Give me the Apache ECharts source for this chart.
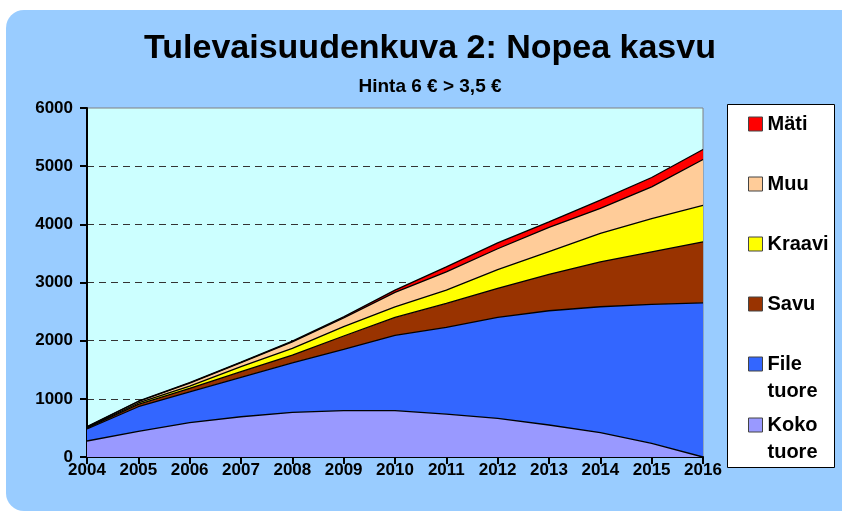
<!DOCTYPE html>
<html>
<head>
<meta charset="utf-8">
<title>Tulevaisuudenkuva 2: Nopea kasvu</title>
<script src="https://cdn.jsdelivr.net/npm/echarts@6/dist/echarts.min.js"></script>
<style>
  html, body { margin: 0; padding: 0; background: #ffffff; }
  #chart { width: 842px; height: 515px; }
</style>
</head>
<body>
<div id="chart"></div>
<script>
  // vuodet
  var years = ['2004', '2005', '2006', '2007', '2008', '2009', '2010', '2011', '2012', '2013', '2014', '2015', '2016'];
  // sarjat alhaalta ylös (pinottu)
  var kokoTuore = [275, 440, 590, 692, 767, 796, 796, 738, 664, 550, 418, 235, 0];
  var fileTuore = [206, 424, 530, 677, 853, 1054, 1294, 1490, 1736, 1964, 2165, 2388, 2651];
  var savu = [15, 40, 60, 97, 132, 230, 310, 412, 500, 626, 773, 905, 1049];
  var kraavi = [10, 25, 40, 86, 116, 160, 180, 229, 320, 390, 487, 572, 624];
  var muu = [10, 25, 50, 70, 110, 150, 250, 315, 360, 416, 430, 545, 791];
  var mati = [5, 5, 10, 10, 15, 20, 40, 86, 100, 97, 143, 160, 172];
  var yTicks = [0, 1000, 2000, 3000, 4000, 5000, 6000];

  var font = '"Liberation Sans", Arial, sans-serif';

  var seriesDefs = [
    { name: 'Koko tuore', label: 'Koko\ntuore', data: kokoTuore, color: '#9999FF' },
    { name: 'File tuore', label: 'File\ntuore', data: fileTuore, color: '#3366FF' },
    { name: 'Savu', label: 'Savu', data: savu, color: '#993300' },
    { name: 'Kraavi', label: 'Kraavi', data: kraavi, color: '#FFFF00' },
    { name: 'Muu', label: 'Muu', data: muu, color: '#FFCC99' },
    { name: 'Mäti', label: 'Mäti', data: mati, color: '#FF0000' }
  ];

  // legendan merkkien keskikohdat (px)
  var legendCenters = {
    'Mäti': 124, 'Muu': 184, 'Kraavi': 244, 'Savu': 304, 'File tuore': 364, 'Koko tuore': 425
  };
  var lh = 27;

  var legends = seriesDefs.map(function (s) {
    var twoLine = s.label.indexOf('\n') >= 0;
    // kaksirivisessä tyhjä rivi alkuun, jotta ensimmäinen rivi on merkin kohdalla
    var text = twoLine ? ' \n' + s.label : s.label;
    return {
      left: 748,
      top: legendCenters[s.name] - (twoLine ? 1.5 * lh : 0.5 * lh),
      padding: 0,
      icon: 'rect',
      itemWidth: 14,
      itemHeight: 14,
      itemGap: 6,
      selectedMode: false,
      data: [{ name: s.name, itemStyle: { color: s.color, borderColor: '#444', borderWidth: 1 } }],
      formatter: function () { return text; },
      textStyle: {
        fontFamily: font,
        fontSize: 20,
        fontWeight: 'bold',
        color: '#000',
        lineHeight: lh
      }
    };
  });

  var myChart = echarts.init(document.getElementById('chart'));
  var option = {
    animation: false,
    backgroundColor: '#ffffff',
    graphic: [
      {
        type: 'rect', z: -10, silent: true,
        shape: { x: 6, y: 10, width: 900, height: 501, r: 18 },
        style: { fill: '#99CCFF' }
      },
      {
        type: 'rect', z: -5, silent: true,
        shape: { x: 727.5, y: 104.5, width: 107, height: 363 },
        style: { fill: '#ffffff', stroke: '#000', lineWidth: 1 }
      },
      {
        type: 'text', silent: true,
        x: 430, y: 49,
        style: {
          text: 'Tulevaisuudenkuva 2: Nopea kasvu',
          font: 'bold 34px ' + font,
          fill: '#000', textAlign: 'center', textVerticalAlign: 'middle'
        }
      },
      {
        type: 'text', silent: true,
        x: 430, y: 87,
        style: {
          text: 'Hinta 6 € > 3,5 €',
          font: 'bold 19px ' + font,
          fill: '#000', textAlign: 'center', textVerticalAlign: 'middle'
        }
      },
      {
        type: 'text', silent: true,
        x: 672, y: 381,
        style: {
          text: '50 %',
          font: 'bold 17px ' + font,
          fill: '#000', textAlign: 'center', textVerticalAlign: 'middle'
        }
      }
    ],
    legend: legends,
    grid: {
      left: 87,
      right: 139,
      top: 108,
      bottom: 58,
      show: true,
      backgroundColor: '#CCFFFF',
      borderColor: '#808080',
      borderWidth: 1
    },
    xAxis: {
      type: 'category',
      boundaryGap: false,
      data: years,
      axisLine: { lineStyle: { color: '#000', width: 2 } },
      axisTick: { show: true, length: 7, lineStyle: { color: '#000', width: 2 } },
      axisLabel: { fontFamily: font, fontSize: 17, fontWeight: 'bold', color: '#000', margin: 5, interval: 0 },
      splitLine: { show: false }
    },
    yAxis: {
      type: 'value',
      min: yTicks[0],
      max: yTicks[yTicks.length - 1],
      interval: 1000,
      axisLine: { show: true, lineStyle: { color: '#000', width: 2 } },
      axisTick: { show: true, length: 7, lineStyle: { color: '#000', width: 2 } },
      axisLabel: {
        fontFamily: font, fontSize: 17, fontWeight: 'bold', color: '#000', margin: 14,
        formatter: function (v) { return String(v); }
      },
      splitLine: {
        show: true,
        showMinLine: false,
        showMaxLine: false,
        lineStyle: { color: '#333', width: 1, type: [7, 5] }
      }
    },
    series: seriesDefs.map(function (s) {
      return {
        name: s.name,
        type: 'line',
        stack: 'total',
        data: s.data,
        symbol: 'none',
        smooth: false,
        itemStyle: { color: s.color },
        lineStyle: { color: '#000', width: 1.3 },
        areaStyle: { color: s.color, opacity: 1 },
        emphasis: { disabled: true }
      };
    })
  };
  myChart.setOption(option);
  window.addEventListener('resize', myChart.resize);
</script>
</body>
</html>
